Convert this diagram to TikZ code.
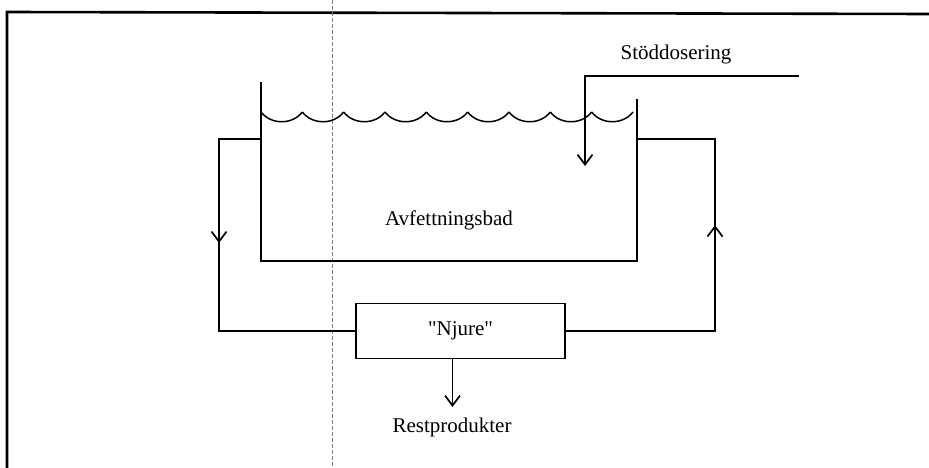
\documentclass[tikz,border=0pt]{standalone}
\usepackage{fontspec}
\setmainfont{Liberation Serif}
\newfontfamily\nqfont{Liberation Serif}[Ligatures=TeXOff]
\usetikzlibrary{arrows.meta,decorations.markings}
\tikzset{
  pipe/.style={line width=1.7pt, line join=miter},
  arr/.style={pipe, -{Straight Barb[length=10pt,width=15pt,line width=1.7pt]}},
  lbl/.style={font=\fontsize{21}{25}\selectfont, inner sep=2pt},
  boxnode/.style={draw, line width=1.7pt, minimum width=209pt, minimum height=55pt, font=\fontsize{21}{25}\selectfont\nqfont},
  midarrow/.style={postaction={decorate, decoration={markings, mark=at position #1 with {\arrow{Straight Barb[length=10pt,width=15pt,line width=1.7pt]}}}}}
}
\begin{document}
\begin{tikzpicture}[x=1pt,y=-1pt]
\useasboundingbox (0,0) rectangle (929,468);
% frame
\draw[line width=2.6pt] (7,468) -- (7,12) -- (929,14);
% dashed fold line
\draw[gray, line width=0.6pt, dash pattern=on 4pt off 2pt] (332,0) -- (332,468);
% tank
\coordinate (tl) at (261,82);
\coordinate (bl) at (261,261);
\coordinate (br) at (637,261);
\coordinate (tr) at (637,99);
\draw[pipe] (tl) -- (bl) -- (br) -- (tr);
% water surface
\foreach \i in {0,...,8}
  \draw[line width=1.5pt] ({261+41.33*\i},112) .. controls ({271+41.33*\i},125) and ({292.33+41.33*\i},125) .. ({302.33+41.33*\i},112);
% labels
\node[lbl] (bad) at (449,220) {Avfettningsbad};
\node[lbl] (sto) at (676,54) {Stöddosering};
\node[boxnode] (njure) at (460.5,331) {"Njure"};
\node[lbl] (rest) at (452,427) {Restprodukter};
% connection points
\coordinate (lw) at (261,139);
\coordinate (rw) at (637,139);
\coordinate (lc1) at (219,139);
\coordinate (rc1) at (715,139);
\coordinate (sdin) at (799,76);
\coordinate (sdc) at (585,76);
\coordinate (sdend) at (585,166);
% left pipe (tank -> njure)
\draw[pipe, midarrow=146pt] (lw) -- (lc1) -- (lc1 |- njure.west) -- (njure.west);
% right pipe (njure -> tank)
\draw[pipe, midarrow=255pt] (njure.east) -- (rc1 |- njure.east) -- (rc1) -- (rw);
% dosing
\draw[arr] (sdin) -- (sdc) -- (sdend);
% rest products
\draw[arr] ([xshift=-8pt]njure.south) -- ([xshift=-8pt]njure.south |- 0,407);
\end{tikzpicture}
\end{document}
